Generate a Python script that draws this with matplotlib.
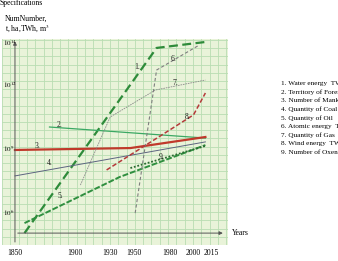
import numpy as np
import matplotlib
matplotlib.use("Agg")
import matplotlib.pyplot as plt

plt.rcParams['font.family'] = ['Liberation Serif', 'DejaVu Serif']
plt.rcParams['mathtext.fontset'] = 'stix'

# ---- data (years, values) ----
water_years = [1858, 1969, 2010]
water_vals = [10**5.15, 10**13.86, 10**14.14]

forest_years = [1879, 2010]
forest_vals = [10**10.14, 10**9.62]

people_years = [1850, 1947, 2010]
people_vals = [10**9.06, 10**9.15, 10**9.67]

coal_years = [1850, 2010]
coal_vals = [10**7.84, 10**9.44]

oil_years = [1858, 1938, 2010]
oil_vals = [10**5.62, 10**7.79, 10**9.29]

atomic_years = [1951, 1969, 2005]
atomic_vals = [10**6.09, 10**12.82, 10**14.0]

gas_years = [1905, 1930, 1968, 2010]
gas_vals = [10**7.41, 10**10.61, 10**11.88, 10**12.35]

wind_years = [1927, 2000, 2010]
wind_vals = [10**8.12, 10**10.71, 10**11.74]

oxen_years = [1947, 2010]
oxen_vals = [10**8.21, 10**9.25]

legend_texts = ["1. Water energy  TWh", "2. Territory of Forest", "3. Number of Mankind",
                "4. Quantity of Coal", "5. Quantity of Oil", "6. Atomic energy  TWh",
                "7. Quantity of Gas", "8. Wind energy  TWh", "9. Number of Oxen"]

xtick_years = [1850, 1900, 1930, 1950, 1980, 2000, 2015]
ytick_exps = [6, 9, 12, 14]

fig = plt.figure(figsize=(3.38, 2.61), dpi=100)
W, H = 338, 261
ax = fig.add_axes([2 / W, (H - 245) / H, 226 / W, (245 - 39) / H])
ax.set_yscale('log')
ax.set_xlim(1839.1, 2029.0)
ax.set_ylim(10**4.59, 10**14.28)
ax.set_facecolor('#e9f3d9')
for s in ax.spines.values():
    s.set_visible(False)

# grid paper
xg = np.arange(1839.1, 2029.5, 8.3 / 1.19)
yg = 10 ** np.arange(4.59, 14.3, 8.2 / 21.25)
for xv in xg:
    ax.axvline(xv, color='#b9ddb2', lw=0.6, zorder=0)
for yv in yg:
    ax.axhline(yv, color='#b9ddb2', lw=0.6, zorder=0)

ax.set_xticks(xtick_years)
ax.set_xticklabels([str(y) for y in xtick_years], fontsize=5.5)
ax.tick_params(axis='x', length=0, pad=3)
ax.set_yticks([])
ax.minorticks_off()

# axes arrows
axis_y = 10**5.15
ax.annotate('', xy=(2027, axis_y), xytext=(1850, axis_y),
            arrowprops=dict(arrowstyle='-|>', color='#555555', lw=0.7, mutation_scale=5))
ax.annotate('', xy=(1850, 10**14.3), xytext=(1850, 10**4.6),
            arrowprops=dict(arrowstyle='-|>', color='#555555', lw=0.7, mutation_scale=5))
fig.text(232 / W, (H - 233) / H, 'Years', fontsize=5.5, va='center', ha='left')

for e in ytick_exps:
    fig.text(3 / W, 0, r'$10^{%d}$' % e, ha='left', va='center', fontsize=5)
    t = fig.texts[-1]
    t.set_transform(ax.get_yaxis_transform())
    t.set_position((1 / 226, 10**e * 10**0.1))

# series
ax.plot(water_years, water_vals, color='#2e8b3a', lw=1.6, ls=(0, (4, 2)))
ax.plot(forest_years, forest_vals, color='#3aa863', lw=0.9)
ax.plot(people_years, people_vals, color='#c0392b', lw=1.6)
ax.plot(coal_years, coal_vals, color='#5c6480', lw=0.7)
ax.plot(oil_years, oil_vals, color='#2f8f3f', lw=1.4, ls=(0, (3, 1)))
ax.plot(atomic_years, atomic_vals, color='#7f7f7f', lw=0.8, ls=(0, (3, 2)))
ax.plot(gas_years, gas_vals, color='#8a8a8a', lw=0.6, ls=(0, (2, 1)))
ax.plot(wind_years, wind_vals, color='#b53a3a', lw=1.1, ls=(0, (3, 1.5)))
ax.plot(oxen_years, oxen_vals, color='#2a6a30', lw=1.3, ls=(0, (1, 1)))

# line labels
lab_pos = [(1952.5, 12.96), (1887.8, 10.24), (1868.5, 9.25), (1879.4, 8.45), (1887.8, 6.89),
           (1982.8, 13.34), (1984.5, 12.21), (1995.4, 10.61), (1973.5, 8.73)]
for i, (xx, ee) in enumerate(lab_pos):
    ax.text(xx, 10**ee, f'{i + 1}.', fontsize=5.5, ha='center', va='center', color='#222222')

# header text
fig.text(0 / W, 1 - 3 / H, 'Specifications', fontsize=5.5, ha='left', va='center')
fig.text(5 / W, 1 - 19 / H, 'NumNumber,', fontsize=5.5, ha='left', va='center')
fig.text(5 / W, 1 - 28 / H, r't, ha,TWh, m$^3$', fontsize=5.5, ha='left', va='center')

# legend text
for i, t in enumerate(legend_texts):
    fig.text(281 / W, 1 - (84 + 8.5 * i) / H, t, fontsize=5.2, ha='left', va='center')

fig.savefig('out.png', dpi=100)
